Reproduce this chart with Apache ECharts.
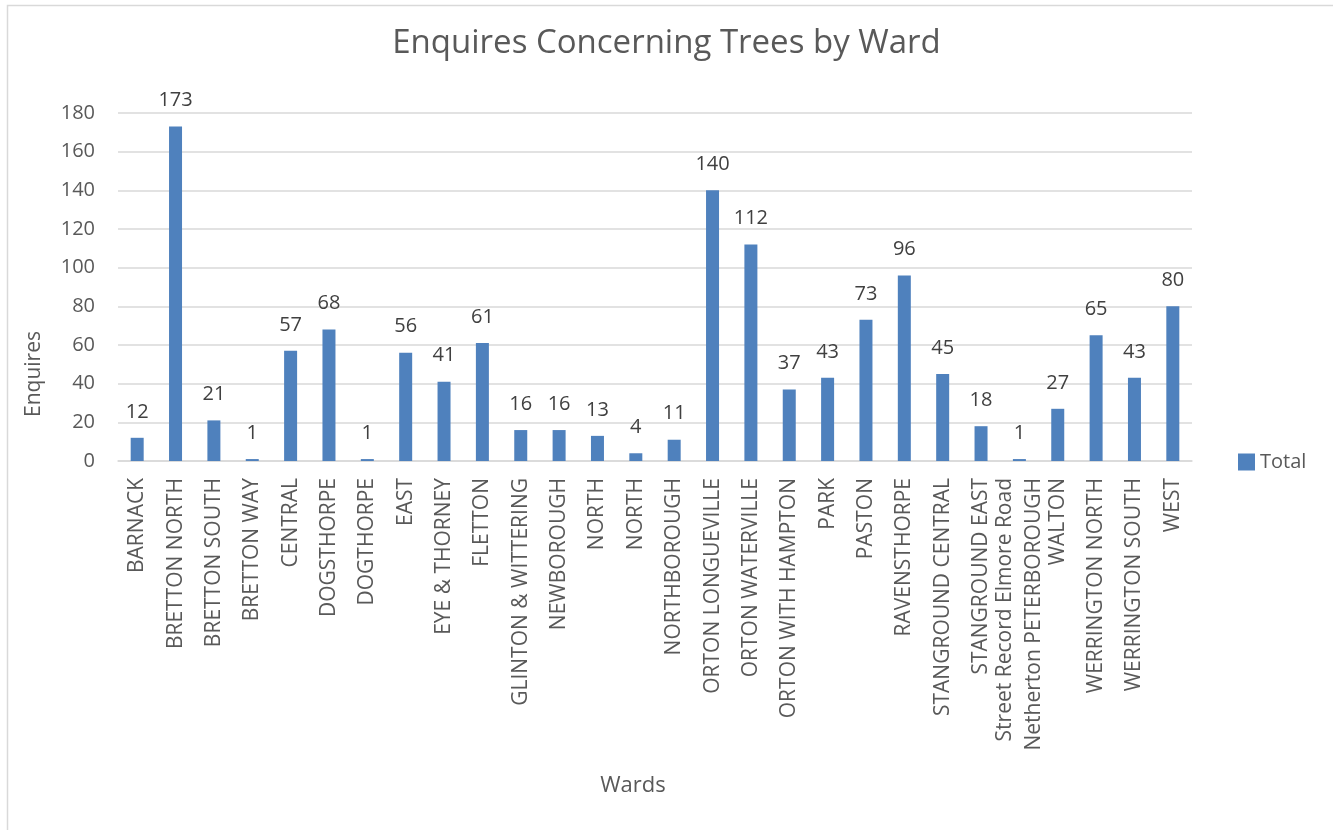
<!DOCTYPE html>
<html>
<head>
<meta charset="utf-8">
<script src="https://cdn.jsdelivr.net/npm/echarts@6/dist/echarts.min.js"></script>
<style>
html,body{margin:0;padding:0;background:#fff;}
#chart{width:1333px;height:830px;}
</style>
</head>
<body>
<div id="chart"></div>
<script>
const categories = ["BARNACK","BRETTON NORTH","BRETTON SOUTH","BRETTON WAY","CENTRAL","DOGSTHORPE","DOGTHORPE","EAST","EYE & THORNEY","FLETTON","GLINTON & WITTERING","NEWBOROUGH","NORTH","NORTH","NORTHBOROUGH","ORTON LONGUEVILLE","ORTON WATERVILLE","ORTON WITH HAMPTON","PARK","PASTON","RAVENSTHORPE","STANGROUND CENTRAL","STANGROUND EAST","Street Record Elmore Road\nNetherton PETERBOROUGH","WALTON","WERRINGTON NORTH","WERRINGTON SOUTH","WEST"];
const totals = [12,173,21,1,57,68,1,56,41,61,16,16,13,4,11,140,112,37,43,73,96,45,18,1,27,65,43,80];
const yTicks = {min:0, max:180, interval:20};

const FONT = "'Open Sans', 'Noto Sans', sans-serif";
const chart = echarts.init(document.getElementById('chart'));
chart.setOption({
  animation:false,
  textStyle:{fontFamily:FONT},
  title:{text:'Enquires Concerning Trees by Ward', left:'center', top:22,
    textStyle:{fontFamily:FONT, fontSize:33, fontWeight:'normal', color:'#595959'}},
  grid:{left:118, right:141, top:113, bottom:369, containLabel:false},
  legend:{data:['Total'], orient:'vertical', left:1233, top:447, itemWidth:17, itemHeight:17, itemGap:8,
    icon:'rect', textStyle:{fontFamily:FONT, fontSize:20, color:'#595959'}},
  xAxis:{type:'category', data:categories,
    axisLine:{lineStyle:{color:'#D9D9D9', width:1.5}},
    axisTick:{show:false},
    axisLabel:{rotate:90, interval:0, margin:17, fontFamily:FONT, fontSize:21, color:'#595959', lineHeight:29}},
  yAxis:{type:'value', min:yTicks.min, max:yTicks.max, interval:yTicks.interval,
    axisLine:{show:false}, axisTick:{show:false},
    splitLine:{lineStyle:{color:'#D9D9D9', width:1.5}},
    axisLabel:{fontFamily:FONT, fontSize:20, color:'#595959', margin:23}},
  graphic:[
    {type:'rect', shape:{x:7.5, y:5.5, width:1400, height:900}, style:{fill:'none', stroke:'#D9D9D9', lineWidth:1.5}, silent:true},
    {type:'text', left:24, top:331, rotation:Math.PI/2, style:{text:'Enquires', font:"21px 'Open Sans', sans-serif", fill:'#595959'}},
    {type:'text', x:633, y:786, style:{text:'Wards', font:"22px 'Open Sans', sans-serif", fill:'#595959', align:'center', verticalAlign:'middle'}}
  ],
  series:[{name:'Total', type:'bar', data:totals, barWidth:13,
    itemStyle:{color:'#4F81BD'},
    label:{show:true, position:'top', distance:16, fontFamily:FONT, fontSize:20, color:'#404040'}}]
});
</script>
</body>
</html>
